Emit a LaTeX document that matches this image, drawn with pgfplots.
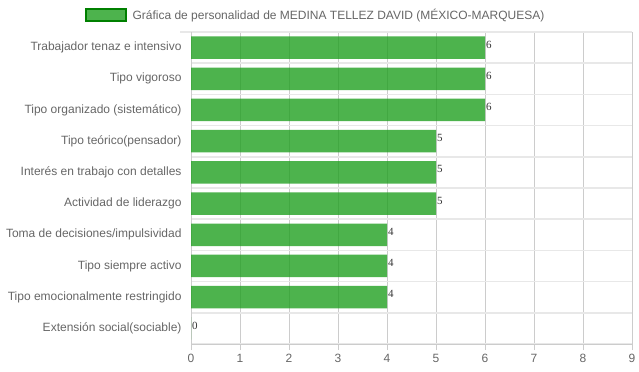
\documentclass[border=0pt]{standalone}
\usepackage{pgfplots}
\pgfplotsset{compat=1.18}
\usepackage{fontspec}
\setmainfont{Liberation Sans}
\newfontfamily\numfont{Liberation Serif}
\definecolor{barcol}{RGB}{32,160,32}
\definecolor{legborder}{RGB}{0,128,0}
\definecolor{gridgray}{RGB}{204,204,204}
\definecolor{gridlight}{RGB}{232,232,232}
\definecolor{txtgray}{RGB}{102,102,102}
\begin{document}
\begin{tikzpicture}
\useasboundingbox (0,0) rectangle (639bp,372bp);
\begin{axis}[
  at={(191bp,28bp)}, anchor=south west,
  scale only axis, width=441bp, height=312bp,
  xbar, bar width=22.5bp,
  xmin=0, xmax=9, ymin=-0.5, ymax=9.5,
  xtick={0,...,9},
  ytick={0,...,9},
  yticklabels={Extensión social(sociable),Tipo emocionalmente restringido,Tipo siempre activo,Toma de decisiones/impulsividad,Actividad de liderazgo,Interés en trabajo con detalles,Tipo teórico(pensador),Tipo organizado (sistemático),Tipo vigoroso,Trabajador tenaz e intensivo},
  minor ytick={-0.5,0.5,...,9.5},
  yminorgrids=true, xmajorgrids=true,
  major grid style={draw=gridgray, line width=1bp},
  minor grid style={draw=gridlight, line width=1.5bp, shorten <=-11bp},
  axis x line=bottom, axis y line=left,
  axis line style={-, draw=gridgray, line width=1bp},
  ytick style={draw=none},
  xtick style={draw=gridgray, line width=1bp},
  tick align=outside, major tick length=6bp,
  ticklabel style={font=\fontsize{12bp}{14bp}\selectfont, text=txtgray},
  yticklabel style={xshift=0bp},
  xticklabel style={yshift=-1bp},
  /pgf/number format/assume math mode=true,
  nodes near coords,
  every node near coord/.append style={font=\numfont\fontsize{11bp}{12bp}\selectfont, text=black, inner sep=1bp, yshift=3bp},
  legend style={at={(axis description cs:0.2823,1.0545)}, anchor=center, draw=none, fill=none,
    font=\fontsize{12bp}{14bp}\selectfont, text=txtgray, inner sep=0pt},
  legend image code/.code={\draw[line width=2bp, draw=legborder, fill=barcol, fill opacity=0.8] (0bp,-6bp) rectangle (40bp,6bp);},
  clip=false,
]
\addplot[draw=none, fill=barcol, fill opacity=0.8] coordinates {
(0,0) (4,1) (4,2) (4,3) (5,4) (5,5) (5,6) (6,7) (6,8) (6,9)};
\addlegendentry{\hspace*{4bp}Gráfica de personalidad de MEDINA TELLEZ DAVID (MÉXICO-MARQUESA)}
\end{axis}
\end{tikzpicture}
\end{document}
